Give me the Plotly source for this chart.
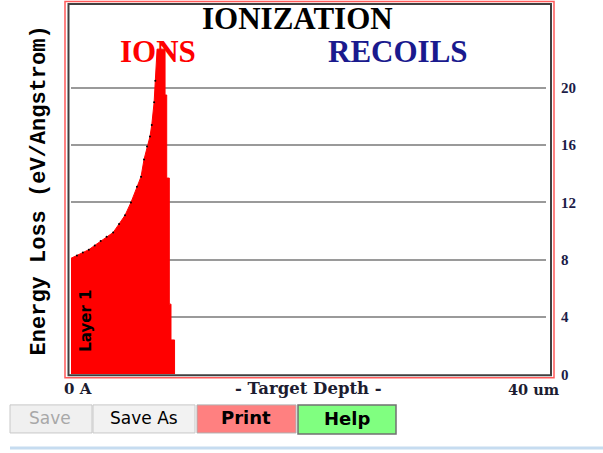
import plotly.graph_objects as go

# ---- data ----
depth_um = [0, 0.5, 1.0, 1.5, 2.0, 2.5, 3.0, 3.55, 4.05, 4.55, 5.05, 5.55, 5.9,
            6.15, 6.4, 6.65, 6.8, 7.0, 7.1, 7.25, 7.92, 7.92, 8.06, 8.06, 8.28, 8.28,
            8.42, 8.42, 8.72, 8.72]
ion_loss = [8.1, 8.3, 8.5, 8.7, 9.0, 9.3, 9.6, 9.9, 10.5, 11.1, 12.0, 13.1, 13.8,
            15.0, 15.9, 16.6, 17.4, 19.0, 20.5, 22.7, 22.7, 19.5, 19.5, 13.7, 13.7, 4.9,
            4.9, 2.4, 2.4, 0.0]
y_ticks = [0, 4, 8, 12, 16, 20]
x_range = [0, 40]
y_range = [0, 25.85]

W, H = 603, 453
FIG_H = 462
def px(x):
    return x / W
def py(y):
    return 1 - y / H

fig = go.Figure()
fig.add_trace(go.Scatter(x=depth_um, y=ion_loss, mode="lines", line=dict(color="#ff0000", width=1),
                         fill="tozeroy", fillcolor="#ff0000", hoverinfo="skip", showlegend=False))
n_rise = 19
fig.add_trace(go.Scatter(x=depth_um[1:n_rise], y=ion_loss[1:n_rise], mode="markers",
                         marker=dict(color="#000000", size=2), hoverinfo="skip", showlegend=False))

serif = "Liberation Serif"
fig.update_layout(
    width=W, height=FIG_H, margin=dict(l=0, r=0, t=0, b=0),
    paper_bgcolor="white", plot_bgcolor="white", showlegend=False,
    xaxis=dict(range=x_range, domain=[px(71), px(546)], showgrid=False, zeroline=False,
               showticklabels=False, ticks="", showline=False, fixedrange=True),
    yaxis=dict(range=y_range, domain=[py(373.5), py(4)], side="right", tickvals=y_ticks,
               showgrid=True, gridcolor="#9a9a9a", gridwidth=1.5, zeroline=False, showline=False,
               ticks="", ticklabelstandoff=14,
               tickfont=dict(family=serif, size=15, color="#1c1c48", weight="bold"), fixedrange=True),
)

shapes = [
    dict(type="rect", xref="paper", yref="paper", x0=px(65), x1=px(554), y0=py(377), y1=py(1.5),
         line=dict(color="#ff5a5a", width=1.5)),
    dict(type="rect", xref="paper", yref="paper", x0=px(68.5), x1=px(551), y0=py(374.5), y1=py(4),
         line=dict(color="#404040", width=2)),
    # buttons
    dict(type="rect", xref="paper", yref="paper", x0=px(10), x1=px(92), y0=py(432), y1=py(404),
         fillcolor="#f0f0f0", line=dict(color="#c8c8c8", width=1)),
    dict(type="rect", xref="paper", yref="paper", x0=px(93), x1=px(195), y0=py(432), y1=py(404),
         fillcolor="#f2f2f2", line=dict(color="#c8c8c8", width=1)),
    dict(type="rect", xref="paper", yref="paper", x0=px(197), x1=px(296), y0=py(432), y1=py(404),
         fillcolor="#ff8080", line=dict(color="#b0b0b0", width=1)),
    dict(type="rect", xref="paper", yref="paper", x0=px(298), x1=px(396), y0=py(433), y1=py(404),
         fillcolor="#80ff80", line=dict(color="#707070", width=1.5)),
    dict(type="line", xref="paper", yref="paper", x0=px(10), x1=px(603), y0=py(447), y1=py(447),
         line=dict(color="#c6dcf0", width=3)),
]

ann = [
    dict(text="IONIZATION", x=px(297), y=py(18), font=dict(family=serif, size=31, color="#000000", weight="bold")),
    dict(text="IONS", x=px(158), y=py(51), font=dict(family=serif, size=31, color="#ff0000", weight="bold")),
    dict(text="RECOILS", x=px(398), y=py(51), font=dict(family=serif, size=31, color="#1a1a8e", weight="bold")),
    dict(text="Energy Loss (eV/Angstrom)", x=px(39), y=py(190), textangle=-90,
         font=dict(family="Liberation Mono", size=22, color="#000000", weight="bold")),
    dict(text="Layer 1", x=px(86), y=py(320), textangle=-90,
         font=dict(family="DejaVu Sans", size=15, color="#000000", weight="bold")),
    dict(text="0 A", x=px(78), y=py(388), font=dict(family="DejaVu Serif", size=15, color="#1c1c30", weight="bold")),
    dict(text="- Target Depth -", x=px(308), y=py(388), font=dict(family="DejaVu Serif", size=16.5, color="#1c1c30", weight="bold")),
    dict(text="40 um", x=px(534), y=py(388.5), font=dict(family="DejaVu Serif", size=14.5, color="#1c1c30", weight="bold")),
    dict(text="Save", x=px(50), y=py(417), font=dict(family="DejaVu Sans", size=17, color="#a8a8a8")),
    dict(text="Save As", x=px(144), y=py(417), font=dict(family="DejaVu Sans", size=17, color="#000000")),
    dict(text="Print", x=px(246), y=py(417), font=dict(family="DejaVu Sans", size=18, color="#000000", weight="bold")),
    dict(text="Help", x=px(347), y=py(418), font=dict(family="DejaVu Sans", size=18, color="#000000", weight="bold")),
]
for a in ann:
    a.update(xref="paper", yref="paper", showarrow=False, xanchor="center", yanchor="middle")

fig.update_layout(shapes=shapes, annotations=ann)
post = ("document.documentElement.style.margin='0';document.body.style.margin='0';"
        "document.documentElement.style.overflow='hidden';document.body.style.overflow='hidden';"
        "var d=document.getElementById('{plot_id}');d.style.position='absolute';"
        "d.style.left='0px';d.style.top='0px';")
fig.write_html("out.html", config={"displayModeBar": False}, post_script=post)
